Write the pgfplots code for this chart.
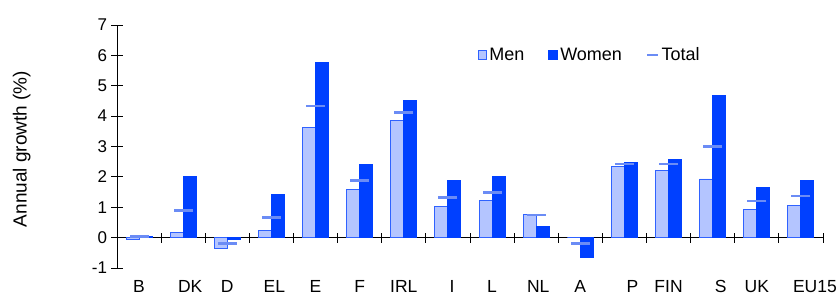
\documentclass[border=0pt]{standalone}
\usepackage{pgfplots}
\pgfplotsset{compat=1.18}
\usepackage{fontspec}
\setmainfont{Liberation Sans}
\definecolor{menfill}{HTML}{B4C5FF}
\definecolor{menedge}{HTML}{2F62FF}
\definecolor{women}{HTML}{0040FF}
\definecolor{total}{HTML}{6B8CF5}
\begin{document}
\begin{tikzpicture}
\path[use as bounding box] (0,0) rectangle (839pt,299pt);
\begin{axis}[
  at={(117pt,31pt)}, anchor=south west,
  scale only axis, width=706pt, height=243pt,
  xmin=-0.5, xmax=15.5, ymin=-1, ymax=7,
  axis x line=middle, axis y line=left,
  axis line style={-, line width=0.9pt, black},
  hide obscured x ticks=false, hide obscured y ticks=false,
  yticklabel style={font=\fontsize{17}{20}\selectfont, xshift=-1pt},
  xticklabel style={font=\fontsize{17.5}{20}\selectfont, anchor=base, inner sep=0pt, yshift=-49.5pt},
  label style={font=\fontsize{19}{22}\selectfont},
  /pgf/number format/assume math mode=true,
  ytick={-1,0,...,7},
  xtick={0,...,15},
  xticklabels={B,\hspace*{14pt}DK,D,\hspace*{6pt}EL,E,F,IRL,\hspace*{8pt}I,L,\hspace*{4pt}NL,A,\hspace*{16pt}P,FIN,\hspace*{16pt}S,UK,\hspace*{28pt}EU15},
  minor xtick={-0.5,0.5,...,15.5},
  every major x tick/.style={draw=none},
  every minor x tick/.style={line width=0.9pt, black},
  every major y tick/.style={line width=0.9pt, black},
  major tick length=11pt, minor tick length=10pt, tick align=center,
  ylabel={Annual growth (\%)},
  ylabel style={at={(axis description cs:-0.135,0.49)}, anchor=center, rotate=0},
  legend columns=3,
  legend style={draw=none, fill=none, at={(axis description cs:0.670,0.877)}, anchor=center,
    font=\fontsize{18}{21}\selectfont,
    /tikz/every even column/.append style={column sep=22pt}},
  legend cell align=left,
]
\addplot[ybar, bar width=13pt, bar shift=-6.5pt, fill=menfill, draw=menedge, line width=0.9pt,
  legend image code/.code={\draw[fill=menfill, draw=menedge, line width=0.9pt] (2pt,-4.5pt) rectangle (10pt,4.5pt);}]
coordinates {(0,-0.05) (1,0.18) (2,-0.35) (3,0.24) (4,3.62) (5,1.58) (6,3.85) (7,1.04) (8,1.22) (9,0.77) (10,0.0) (11,2.35) (12,2.22) (13,1.93) (14,0.94) (15,1.05)};
\addlegendentry{Men}
\addplot[ybar, bar width=13pt, bar shift=6.5pt, fill=women, draw=women, line width=0.9pt,
  legend image code/.code={\draw[fill=women, draw=women] (1pt,-4.5pt) rectangle (10pt,4.5pt);}]
coordinates {(0,0.05) (1,2.0) (2,-0.05) (3,1.42) (4,5.78) (5,2.41) (6,4.5) (7,1.89) (8,2.0) (9,0.36) (10,-0.66) (11,2.47) (12,2.58) (13,4.67) (14,1.64) (15,1.89)};
\addlegendentry{Women}
\addplot[only marks, mark=-, mark size=9.5pt, mark options={draw=total, line width=2.6pt},
  legend image code/.code={\draw[draw=total, line width=2.6pt] (0pt,0pt) -- (11pt,0pt);}]
coordinates {(0,0.03) (1,0.9) (2,-0.2) (3,0.67) (4,4.33) (5,1.89) (6,4.11) (7,1.32) (8,1.49) (9,0.74) (10,-0.2) (11,2.43) (12,2.42) (13,3.0) (14,1.2) (15,1.37)};
\addlegendentry{Total}
\end{axis}
\end{tikzpicture}
\end{document}
